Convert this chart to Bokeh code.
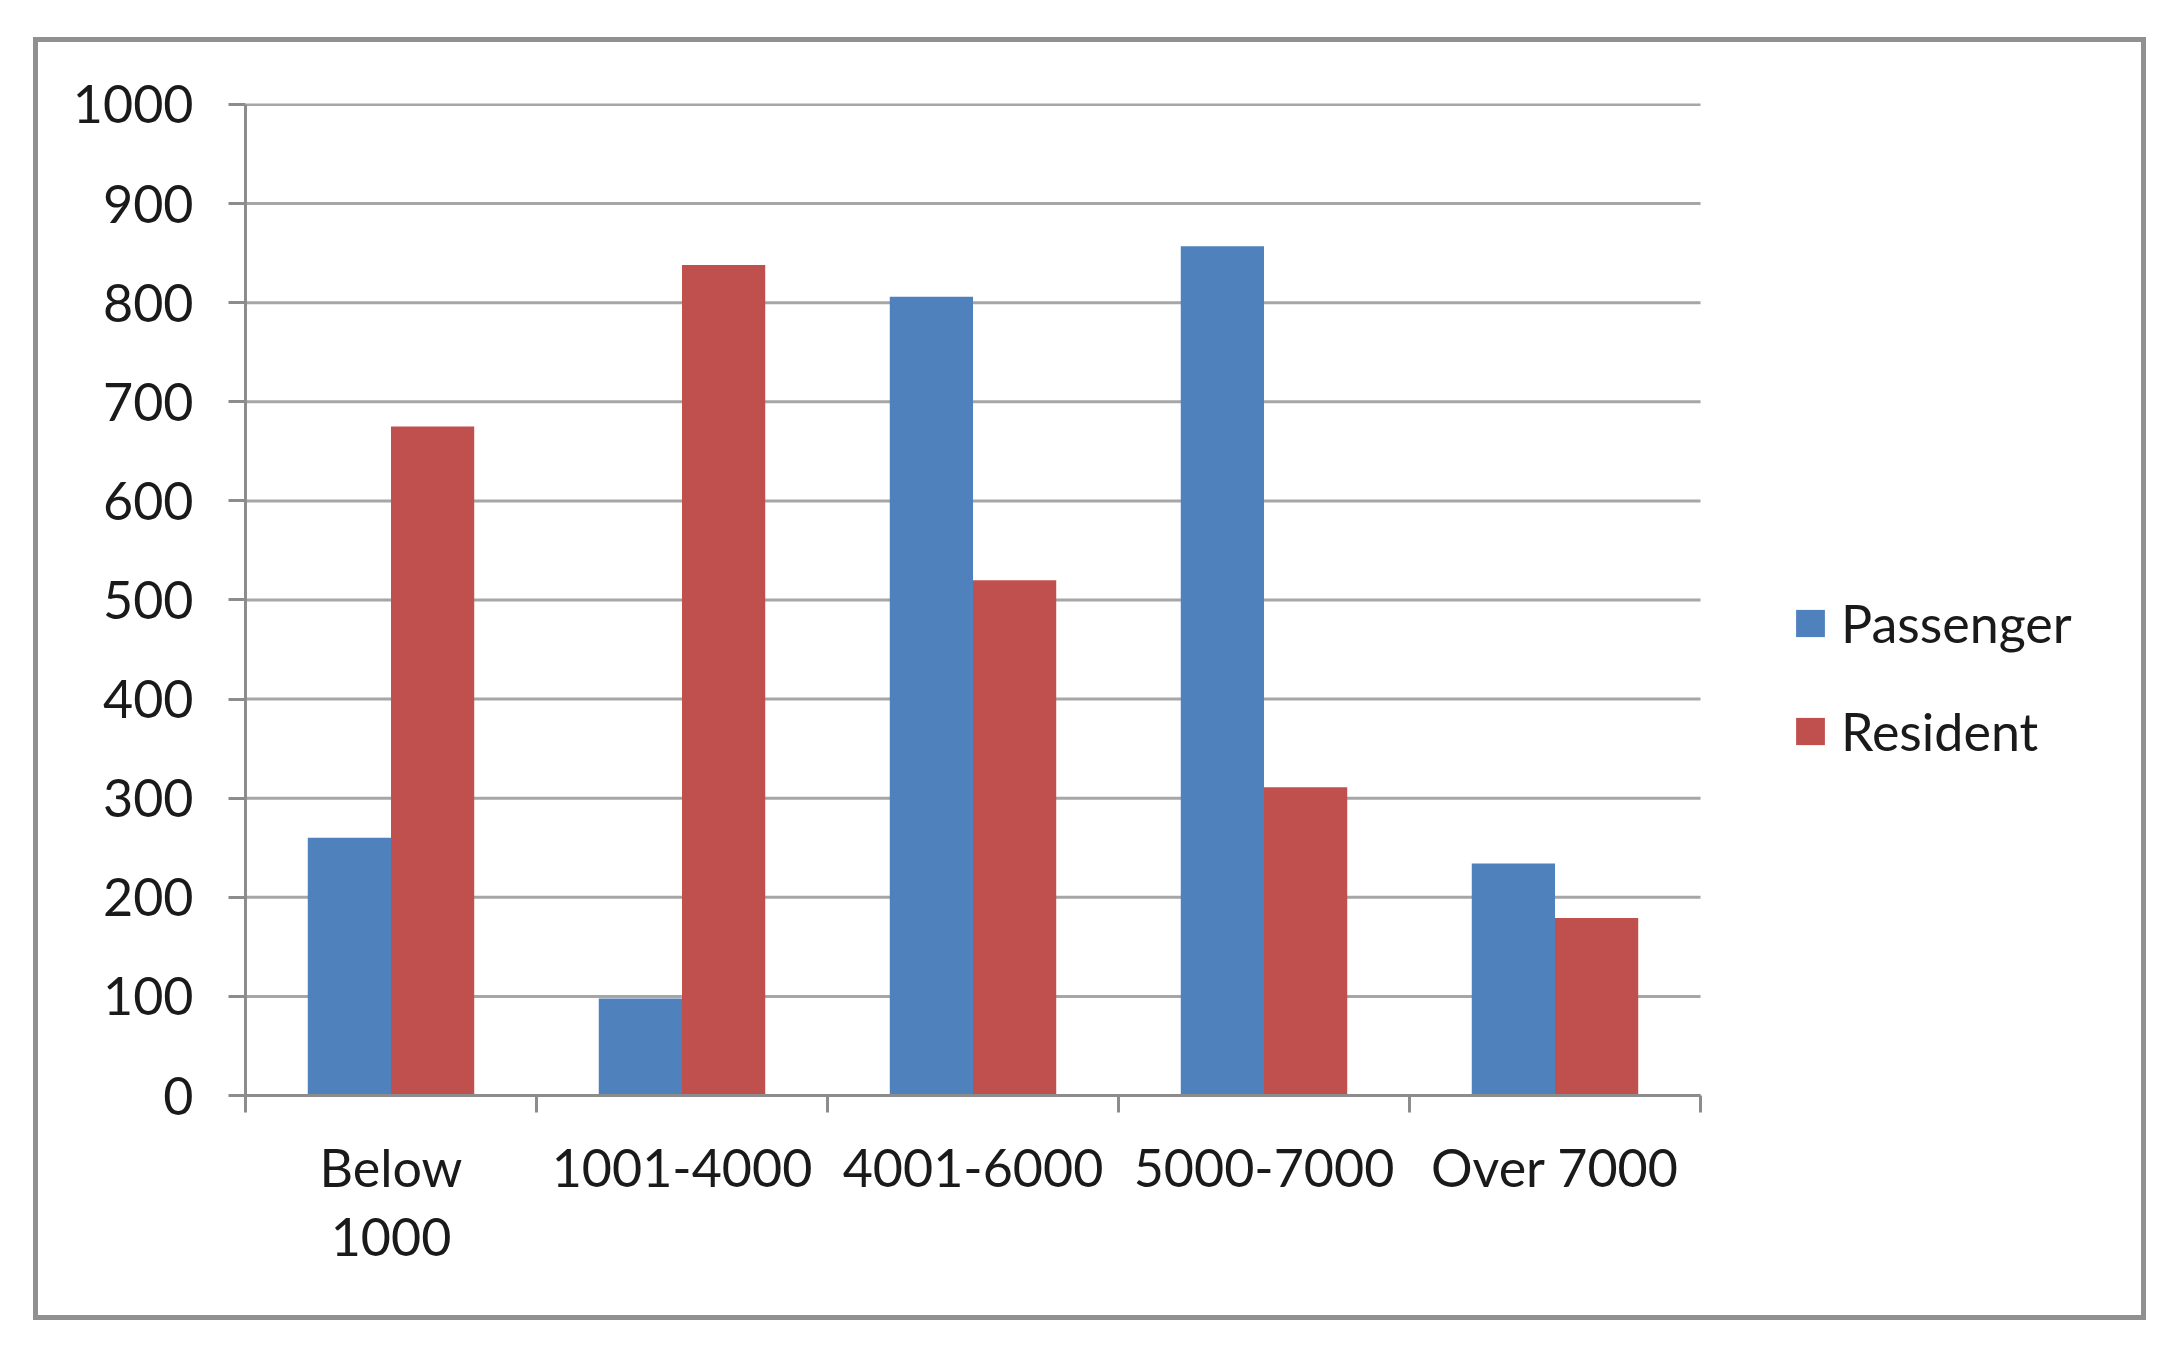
from bokeh.plotting import figure
from bokeh.layouts import column
from bokeh.models import (Range1d, FixedTicker, Legend, LegendItem, ColumnDataSource)
from bokeh.transform import dodge
from bokeh.embed import file_html
from bokeh.resources import INLINE

categories = ["Below\n1000", "1001-4000", "4001-6000", "5000-7000", "Over 7000"]
passenger = [260, 98, 806, 857, 234]
resident = [675, 838, 520, 311, 179]
y_ticks = [0, 100, 200, 300, 400, 500, 600, 700, 800, 900, 1000]

BLUE = "#4F81BD"
RED = "#C0504D"
GRID = "#a6a6a6"
AXIS = "#8c8c8c"
BORDER = "#909090"
FONT = "Lato"
FS = "52px"

n = len(categories)
src = ColumnDataSource(dict(
    x=[i + 0.5 for i in range(n)],
    passenger=passenger,
    resident=resident,
))
grid_src = ColumnDataSource(dict(x0=[0] * len(y_ticks), x1=[n] * len(y_ticks), y=y_ticks))

# plot area of the bars is 1455 px wide; the frame continues under the legend
PLOT_W = 1455
FRAME_W = 1855
FIG_W, FIG_H = 2103, 1273

p = figure(output_backend="svg", toolbar_location=None,
           frame_width=FRAME_W, frame_height=992,
           min_border_left=207, min_border_top=61,
           min_border_right=FIG_W - 207 - FRAME_W, min_border_bottom=FIG_H - 61 - 992,
           x_range=Range1d(0, n * FRAME_W / PLOT_W), y_range=Range1d(0, 1001))
p.outline_line_color = None
p.background_fill_color = "white"
p.border_fill_color = "white"

# horizontal gridlines limited to the category extent
p.segment(x0="x0", x1="x1", y0="y", y1="y", source=grid_src,
          line_color=GRID, line_width=3)

bw = 0.286
rp = p.vbar(x=dodge("x", -bw / 2), top="passenger", width=bw, source=src,
            fill_color=BLUE, line_color=None)
rr = p.vbar(x=dodge("x", bw / 2), top="resident", width=bw, source=src,
            fill_color=RED, line_color=None)

# x axis: labels at group centres, boundary ticks as minor ticks
xa = p.xaxis[0]
xa.bounds = (0, n)
xa.ticker = FixedTicker(ticks=[i + 0.5 for i in range(n)],
                        minor_ticks=list(range(n + 1)))
xa.major_label_overrides = {i + 0.5: c for i, c in enumerate(categories)}
xa.major_tick_out = 0
xa.major_tick_in = 0
xa.minor_tick_out = 17
xa.minor_tick_in = 0
xa.minor_tick_line_color = AXIS
xa.minor_tick_line_width = 3
xa.axis_line_color = AXIS
xa.axis_line_width = 3
xa.major_label_text_font = FONT
xa.major_label_text_font_size = FS
xa.major_label_text_color = "#1a1a1a"
xa.major_label_text_line_height = 1.12
xa.major_label_standoff = 23

ya = p.yaxis[0]
ya.bounds = (0, 1000)
ya.ticker = FixedTicker(ticks=y_ticks, minor_ticks=[])
ya.major_tick_out = 17
ya.major_tick_in = 0
ya.major_tick_line_color = AXIS
ya.major_tick_line_width = 3
ya.axis_line_color = AXIS
ya.axis_line_width = 3
ya.major_label_text_font = FONT
ya.major_label_text_font_size = FS
ya.major_label_text_color = "#1a1a1a"
ya.major_label_standoff = 35

p.xgrid.grid_line_color = None
p.ygrid.grid_line_color = None

legend = Legend(items=[LegendItem(label="Passenger", renderers=[rp]),
                       LegendItem(label="Resident", renderers=[rr])],
                location=(1547, 324), orientation="vertical",
                glyph_width=36, glyph_height=34, label_standoff=13,
                label_height=80, spacing=28, padding=0, margin=0,
                label_text_font=FONT, label_text_font_size=FS,
                label_text_color="#1a1a1a",
                border_line_color=None, background_fill_alpha=0)
p.add_layout(legend, "center")

layout = column(p, sizing_mode="fixed", width=FIG_W, height=FIG_H,
                styles={"border": f"5px solid {BORDER}",
                        "box-sizing": "content-box",
                        "margin-left": "33px", "margin-top": "37px",
                        "background": "white"})

open("out.html", "w").write(file_html(layout, INLINE))
